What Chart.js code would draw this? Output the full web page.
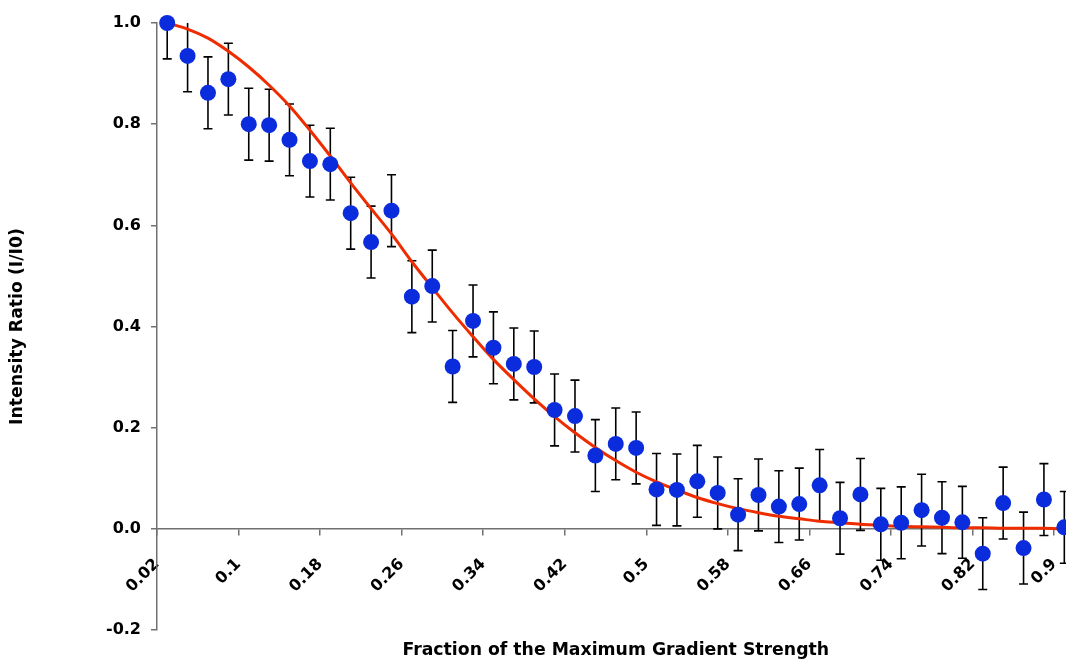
<!DOCTYPE html>
<html>
<head>
<meta charset="utf-8">
<script src="https://cdn.jsdelivr.net/npm/chart.js@4.4.1/dist/chart.umd.min.js"></script>
<style>
  html, body { margin: 0; padding: 0; background: #fff; overflow: hidden; }
  canvas { display: block; }
</style>
</head>
<body>
<canvas id="grafic" width="1088" height="663"></canvas>
<script>
// gradient fraction for each measurement
const gradient = [0.02, 0.04, 0.06, 0.08, 0.10, 0.12, 0.14, 0.16, 0.18, 0.20,
                  0.22, 0.24, 0.26, 0.28, 0.30, 0.32, 0.34, 0.36, 0.38, 0.40,
                  0.42, 0.44, 0.46, 0.48, 0.50, 0.52, 0.54, 0.56, 0.58, 0.60,
                  0.62, 0.64, 0.66, 0.68, 0.70, 0.72, 0.74, 0.76, 0.78, 0.80,
                  0.82, 0.84, 0.86, 0.88, 0.90];

// measured I/I0
const intensity = [1.000, 0.935, 0.862, 0.889, 0.800, 0.798, 0.769, 0.727, 0.721, 0.624,
                   0.567, 0.629, 0.459, 0.480, 0.321, 0.411, 0.358, 0.326, 0.320, 0.235,
                   0.223, 0.145, 0.168, 0.160, 0.078, 0.077, 0.094, 0.071, 0.028, 0.067,
                   0.044, 0.049, 0.086, 0.021, 0.068, 0.009, 0.012, 0.037, 0.022, 0.013,
                   -0.049, 0.051, -0.038, 0.058, 0.003];

// fitted curve
const fit = [1.000, 0.988, 0.970, 0.944, 0.913, 0.877, 0.836, 0.788, 0.737, 0.684,
             0.633, 0.583, 0.528, 0.477, 0.427, 0.380, 0.335, 0.295, 0.257, 0.222,
             0.190, 0.161, 0.135, 0.112, 0.093, 0.077, 0.062, 0.050, 0.040, 0.032,
             0.025, 0.020, 0.015, 0.012, 0.009, 0.007, 0.005, 0.004, 0.003, 0.002,
             0.002, 0.001, 0.001, 0.001, 0.000];

// fixed +/- error on every point
const errorBar = 0.071;

// x tick marks sit between categories, labelled with the next category
const tickPositions = [0.01, 0.09, 0.17, 0.25, 0.33, 0.41, 0.49, 0.57, 0.65, 0.73, 0.81, 0.89];
const tickLabels = ['0.02', '0.1', '0.18', '0.26', '0.34', '0.42', '0.5', '0.58', '0.66', '0.74', '0.82', '0.9'];
const yTicks = [-0.2, 0, 0.2, 0.4, 0.6, 0.8, 1.0];

const bold16 = {family: 'DejaVu Sans', size: 16, weight: 'bold'};
const boldTitle = {family: 'DejaVu Sans', size: 17.3, weight: 'bold'};
const axisGray = '#707070';

const errorBars = {
    id: 'errorBars',
    beforeDatasetsDraw(chart) {
        const {ctx, chartArea, scales: {x, y}} = chart;
        ctx.save();
        ctx.beginPath();
        ctx.rect(chartArea.left, chartArea.top, chartArea.width, chartArea.height);
        ctx.clip();
        ctx.strokeStyle = '#000';
        ctx.lineWidth = 1.6;
        gradient.forEach((g, i) => {
            const px = x.getPixelForValue(g);
            const top = y.getPixelForValue(intensity[i] + errorBar);
            const bottom = y.getPixelForValue(intensity[i] - errorBar);
            ctx.beginPath();
            ctx.moveTo(px, top);
            ctx.lineTo(px, bottom);
            ctx.moveTo(px - 4.5, top);
            ctx.lineTo(px + 4.5, top);
            ctx.moveTo(px - 4.5, bottom);
            ctx.lineTo(px + 4.5, bottom);
            ctx.stroke();
        });
        ctx.restore();
    }
};

const data = {
    datasets: [{
        type: 'scatter',
        label: 'Measured',
        data: gradient.map((g, i) => ({x: g, y: intensity[i]})),
        backgroundColor: '#0a2cdc',
        pointRadius: 8,
        pointBorderWidth: 0,
        clip: false
    }, {
        type: 'line',
        label: 'Fit',
        data: gradient.map((g, i) => ({x: g, y: fit[i]})),
        borderColor: '#ee2c00',
        borderWidth: 3,
        pointRadius: 0,
        cubicInterpolationMode: 'monotone',
        clip: false
    }]
};

const config = {
    data: data,
    plugins: [errorBars],
    options: {
        responsive: false,
        animation: false,
        events: [],
        layout: {padding: {left: 0, top: 23, right: 2, bottom: 0}},
        plugins: {
            legend: {display: false},
            tooltip: {enabled: false},
            title: {
                display: true,
                position: 'bottom',
                fullSize: false,
                text: 'Fraction of the Maximum Gradient Strength',
                color: '#000',
                font: boldTitle,
                padding: {top: 10.5, bottom: 1.7}
            }
        },
        scales: {
            x: {
                type: 'linear',
                position: {y: 0},
                min: 0.01,
                max: 0.91,
                afterBuildTicks: scale => { scale.ticks = tickPositions.map(v => ({value: v})); },
                ticks: {
                    autoSkip: false,
                    minRotation: 45,
                    maxRotation: 45,
                    padding: 20,
                    color: '#000',
                    font: bold16,
                    callback: (v, i) => tickLabels[i]
                },
                grid: {drawOnChartArea: false, tickLength: 6, color: axisGray, lineWidth: 1.5},
                border: {color: axisGray, width: 1.5}
            },
            y: {
                type: 'linear',
                min: -0.2,
                max: 1.0,
                afterBuildTicks: scale => { scale.ticks = yTicks.map(v => ({value: v})); },
                afterFit: scale => { scale.width = 157; },
                ticks: {
                    padding: 10,
                    color: '#000',
                    font: bold16,
                    callback: v => v.toFixed(1)
                },
                grid: {drawOnChartArea: false, tickLength: 6, color: axisGray, lineWidth: 1.5},
                border: {color: axisGray, width: 1.5},
                title: {
                    display: true,
                    text: 'Intensity Ratio (I/I0)',
                    color: '#000',
                    font: boldTitle,
                    padding: {top: 7.5, bottom: 0}
                }
            }
        }
    }
};

const grafica = new Chart(document.getElementById('grafic'), config);
</script>
</body>
</html>
